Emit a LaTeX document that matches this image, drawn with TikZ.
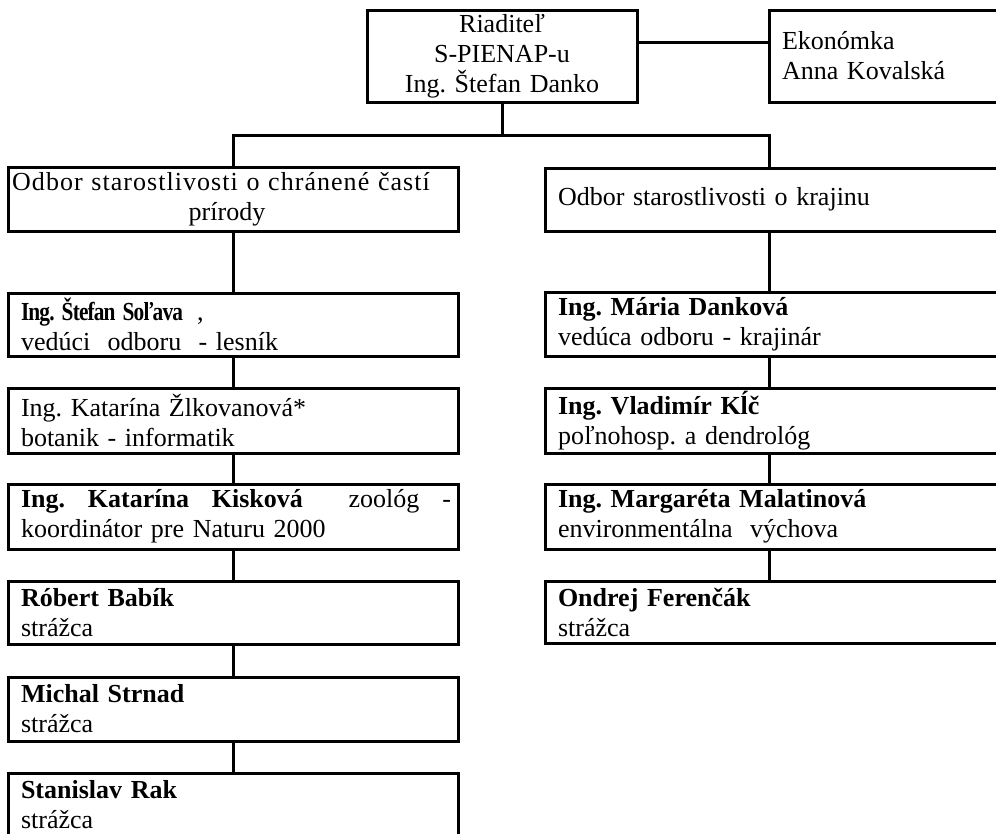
\documentclass[tikz,border=0pt]{standalone}
\usepackage{graphicx}
\usepackage{fontspec}
\setmainfont{Liberation Serif}
\newfontfamily\tightserif{Liberation Serif}[LetterSpace=-4]
\newfontfamily\wideserif{Liberation Serif}[LetterSpace=4]
\frenchspacing
\begin{document}
\begin{tikzpicture}[x=1pt,y=-1pt,
  box/.style={draw, line width=3pt, rectangle, anchor=north west, outer sep=0pt,
    inner xsep=13pt, inner ysep=0pt, align=left, font=\fontsize{26}{30}\selectfont\frenchspacing},
  lbox/.style={box, minimum width=450pt, text width=424pt},
  rbox/.style={box, minimum width=460pt, text width=434pt},
  link/.style={line width=3pt}]
\useasboundingbox (0,0) rectangle (996,833);
\clip (0,0) rectangle (996,833);
% top level
\node[box, minimum width=270pt, minimum height=92pt, text width=244pt, align=center] (dir) at (367,10)
  {Riaditeľ\\S-PIENAP-u\\Ing. Štefan Danko};
\node[box, minimum width=240pt, minimum height=92pt, text width=214pt] (eko) at (769,10)
  {Ekonómka\\Anna Kovalská};
\coordinate (jl) at (233,135);
\coordinate (jr) at (769,135);
% left column
\node[lbox, minimum height=64pt, align=center] (l0) at (8,167)
  {\hspace*{-24pt}{\wideserif Odbor starostlivosti o chránené častí}\\\hspace*{-12pt}prírody};
\node[lbox, minimum height=63pt] (l1) at (8,293)
  {\resizebox{162pt}{\height}{\tightserif\bfseries Ing. Štefan Soľava}\hspace{14pt},\\vedúci\ \ odboru\ \ - lesník};
\node[lbox, minimum height=65pt] (l2) at (8,388)
  {Ing. Katarína Žlkovanová*\\botanik - informatik};
\node[lbox, minimum height=65pt] (l3) at (8,484)
  {\hbox to 430pt{\textbf{Ing.}\hfill\textbf{Katarína}\hfill\textbf{Kisková}\hfill\hfill zoológ\hfill -}\\koordinátor pre Naturu 2000};
\node[lbox, minimum height=63pt] (l4) at (8,581)
  {\textbf{Róbert Babík}\\strážca};
\node[lbox, minimum height=64pt] (l5) at (8,677)
  {\textbf{Michal Strnad}\\strážca};
\node[lbox, minimum height=63pt] (l6) at (8,773)
  {\textbf{Stanislav Rak}\\strážca};
% right column
\node[rbox, minimum height=63pt] (r0) at (545,168)
  {\raisebox{-4pt}{Odbor starostlivosti o krajinu}};
\node[rbox, minimum height=64pt] (r1) at (545,292)
  {\textbf{Ing. Mária Danková}\\vedúca odboru - krajinár};
\node[rbox, minimum height=65pt] (r2) at (545,388)
  {\textbf{Ing. Vladimír Kĺč}\\poľnohosp.\ a dendrológ};
\node[rbox, minimum height=65pt] (r3) at (545,484)
  {\textbf{Ing. Margaréta Malatinová}\\environmentálna\ \ výchova};
\node[rbox, minimum height=62pt] (r4) at (545,581)
  {\textbf{Ondrej Ferenčák}\\strážca};
% connectors
\draw[link] ([yshift=14pt]dir.east) -- ([yshift=14pt]eko.west);
\draw[link] (dir.south) -- (dir.south |- jl);
\draw[link] (l0.north) -- (jl) -- (jr) -- (r0.north -| jr);
\draw[link] (l0.south) -- (l1.north);
\draw[link] (l1.south) -- (l2.north);
\draw[link] (l2.south) -- (l3.north);
\draw[link] (l3.south) -- (l4.north);
\draw[link] (l4.south) -- (l5.north);
\draw[link] (l5.south) -- (l6.north);
\draw[link] (r0.south -| jr) -- (r1.north -| jr);
\draw[link] (r1.south -| jr) -- (r2.north -| jr);
\draw[link] (r2.south -| jr) -- (r3.north -| jr);
\draw[link] (r3.south -| jr) -- (r4.north -| jr);
\end{tikzpicture}
\end{document}
